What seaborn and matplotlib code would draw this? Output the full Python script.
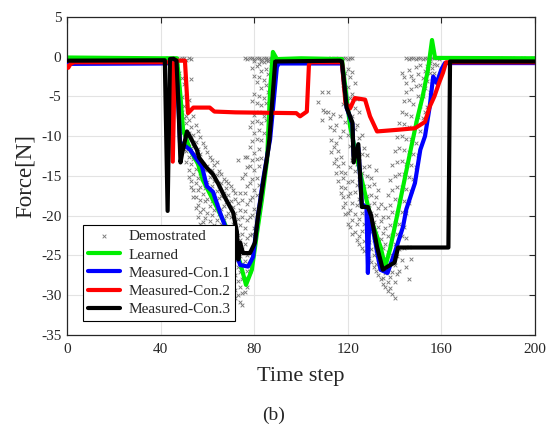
import matplotlib
matplotlib.use("Agg")
import matplotlib.pyplot as plt
import seaborn as sns

sns.set_theme(style="white")
plt.rcParams["font.family"] = ["Liberation Serif", "DejaVu Serif"]
plt.rcParams["axes.unicode_minus"] = False

# ---- curves (time step, force) ----
learned_t = [0, 20, 40, 47, 48.5, 49.6, 52.6, 56, 58, 64.5, 69, 74, 76.5, 79, 81, 83.3,
             85.5, 86.8, 88, 89.7, 100, 117.5, 121, 126, 130, 134, 136, 138, 141,
             143.6, 146.6, 149.6, 152, 154.3, 156, 157.3, 200]
learned_f = [-0.1, -0.15, -0.2, -0.2, -5, -9.2, -11.7, -13.5, -15.5, -19.2, -22, -25.9,
             -28.7, -26.8, -22.6, -18, -13, -4.2, 0.6, -0.3, -0.2, -0.3, -8.8, -15.5,
             -20.5, -23.9, -26.4, -24.3, -20.1, -16.4, -12.1, -7.9, -5, -1.6, 2.1,
             -0.15, -0.2]

con1_t = [0, 40, 46.5, 47.5, 48.3, 49.5, 52.6, 54.7, 57.7, 58.5, 59.8, 62.4, 65.4, 69.7,
          71.8, 74, 77.4, 79.5, 81.6, 83.8, 86, 86.8, 89.7, 90.5, 116.7, 117.5, 119.5,
          122, 122.5, 124.5, 126, 128, 128.6, 129.2, 130, 132.5, 134, 137, 140, 143.6,
          145, 148.7, 151, 153, 155, 156.5, 158, 160, 161.5, 200]
con1_f = [-0.9, -0.85, -0.8, -5, -10.8, -11, -11.7, -12.6, -13.8, -14.8, -16.3, -17,
          -19.6, -23, -24.3, -26.2, -26.4, -25.2, -20.1, -15.5, -11.7, -10.4, -1.3,
          -0.85, -0.85, -0.9, -6.4, -8.5, -12.5, -11.5, -18.5, -19, -27.2, -20, -20.5,
          -24.5, -26.8, -27.2, -24.7, -21.4, -19.2, -15.9, -11.7, -10, -6.3, -2.5,
          -3.3, -1.6, -0.8, -0.8]

con2_t = [0, 0.5, 1.5, 3, 44.3, 45.2, 46.1, 50.4, 51.7, 54, 61, 63, 72, 98, 99.6,
          102.5, 103.4, 104, 117.5, 119, 121, 123, 127.4, 129.5, 132.5, 141, 148.7,
          153, 155, 157, 159, 160.7, 162, 200]
con2_f = [-1.2, -1.4, -0.9, -0.7, -0.7, -13.2, -0.5, -0.5, -7.1, -6.4, -6.4, -6.9,
          -7, -7.1, -7.5, -6.9, -1, -0.7, -0.7, -5.8, -6.5, -5.2, -5.4, -7.5, -9.4,
          -9.2, -9, -8.2, -6.3, -5, -3.3, -2, -0.7, -0.7]

con3_t = [0, 41.8, 43, 44, 45.5, 46.8, 47.6, 48.5, 49.3, 51.3, 53, 55.5, 56.5, 59.8,
          62.4, 64.5, 67.5, 71, 72.6, 73.2, 74, 75.2, 78.2, 80.3, 81.6, 83.8, 86, 86.5,
          89, 116.7, 117.5, 119.5, 122, 122.5, 124.5, 126, 128.6, 130, 132.5, 135, 137,
          140, 141.5, 163, 163.7, 200]
con3_f = [-0.5, -0.45, -19.4, -0.3, -0.25, -0.5, -6, -13.3, -12, -9.4, -10.3, -11.7,
          -12.7, -14, -14.8, -15.9, -17.7, -19.6, -22, -25.5, -23.4, -24.7, -24.7,
          -23.4, -20.1, -15.9, -11.7, -10.4, -0.6, -0.5, -0.6, -6.4, -8.3, -13.3, -11,
          -18.9, -18.9, -20, -23.9, -26.8, -26.4, -25.9, -24, -24, -0.6, -0.6]

# ---- demonstrated samples: columns of time steps with the forces seen there ----
base_t = [0, 2, 4, 6, 8, 10, 12, 14, 16, 18, 20, 22, 24, 26, 43, 44, 45, 46, 47, 48,
          49, 50, 51, 52, 53, 76, 77, 78, 79, 80, 81, 82, 83, 84, 85, 86, 87, 113,
          114, 115, 116, 117, 118, 119, 120, 121, 122, 145, 146, 147, 148, 149, 150,
          151, 152, 153, 154, 155, 156, 157, 158, 159, 165, 170, 175, 180, 185, 190,
          195, 199]
base_f = [-0.1, -0.2, -0.1, -0.2, -0.1, -0.2, -0.1, -0.2, -0.1, -0.2, -0.1, -0.2, -0.1,
          -0.2, -0.2, -0.3, -0.1, -0.4, -0.2, -0.3, -0.1, -0.2, -0.4, -0.2, -0.3, -0.2,
          -0.3, -0.1, -0.2, -0.3, -0.2, -0.1, -0.3, -0.2, -0.1, -0.3, -0.2, -0.2, -0.3,
          -0.1, -0.2, -0.3, -0.2, -0.1, -0.3, -0.2, -0.1, -0.2, -0.3, -0.1, -0.2, -0.3,
          -0.1, -0.2, -0.3, -0.2, -0.1, -0.3, -0.2, -0.1, -0.2, -0.3, -0.1, -0.1, -0.1,
          -0.1, -0.1, -0.1, -0.1, -0.1]

dip1_cols = list(range(46, 88))
dip1_vals = [
    [-0.8, -1.9, -2.8], [-1.2, -3.5, -4.6, -2.4], [-2.1, -4.0, -5.8, -7.2],
    [-2.7, -5.1, -6.9, -8.8, -9.6], [-3.4, -6.2, -7.7, -9.3, -10.8, -11.6],
    [-5.0, -7.5, -8.4, -10.1, -11.9, -13.2], [-5.4, -8.0, -9.6, -11.2, -12.6, -14.3, -15.1],
    [-2.8, -8.9, -10.4, -11.7, -13.5, -15.6, -16.4], [-7.4, -9.8, -11.2, -12.9, -14.8, -16.8, -17.6],
    [-8.6, -10.7, -12.3, -14.1, -15.9, -17.7, -19.0], [-9.3, -11.6, -13.4, -15.3, -16.8, -18.6, -20.2],
    [-10.1, -12.2, -14.6, -16.4, -18.0, -19.5, -21.0], [-10.9, -13.5, -15.2, -17.3, -19.1, -20.8],
    [-11.4, -14.2, -16.5, -18.2, -20.3], [-12.0, -13.8, -15.7, -17.9, -19.6, -21.9],
    [-12.6, -15.1, -17.0, -18.8, -20.7], [-13.0, -14.2, -16.3, -18.1, -19.9, -22.4],
    [-13.6, -15.6, -17.4, -19.3, -21.2], [-13.2, -14.9, -16.9, -18.6, -20.5, -23.0],
    [-14.4, -16.2, -17.8, -19.8, -21.8], [-14.8, -15.9, -17.5, -19.2, -21.1, -23.6],
    [-15.4, -17.1, -18.8, -20.6, -22.6, -24.4], [-15.6, -16.5, -18.3, -20.0, -21.9, -23.8, -25.6],
    [-15.9, -17.4, -19.6, -21.4, -23.3, -25.1, -26.7], [-16.2, -18.1, -20.2, -22.0, -24.0, -26.0, -27.8],
    [-16.8, -18.9, -21.1, -22.9, -24.8, -26.9, -28.6],
    [-17.1, -17.9, -19.6, -21.6, -23.5, -25.6, -27.5, -29.3, -30.4],
    [-13.0, -18.4, -20.4, -22.4, -24.4, -26.4, -28.2, -30.0],
    [-17.1, -19.3, -21.2, -23.0, -25.1, -27.1, -29.0, -30.9],
    [-15.2, -18.0, -20.1, -22.3, -24.2, -26.1, -28.0, -29.7, -31.2],
    [-12.6, -14.8, -17.2, -19.4, -21.5, -23.6, -25.7, -27.8, -29.6],
    [-12.6, -13.9, -16.3, -18.5, -20.6, -22.8, -24.9, -27.0, -29.0],
    [-8.8, -11.4, -13.8, -15.9, -18.0, -20.2, -22.4, -24.6, -26.9],
    [-1.4, -5.6, -8.2, -10.6, -13.0, -15.4, -17.6, -19.9, -22.3, -24.5],
    [-0.6, -2.4, -4.7, -7.3, -9.6, -12.1, -14.3, -16.8, -19.1, -21.5],
    [-1.2, -3.2, -5.8, -8.1, -10.4, -12.9, -15.2, -17.4, -19.8],
    [-0.9, -2.6, -4.9, -7.0, -9.2, -11.6, -13.8, -16.1],
    [-0.5, -1.8, -3.9, -6.1, -8.3, -10.5, -12.7],
    [-0.7, -2.9, -5.2, -7.4, -9.6], [-0.4, -1.6, -3.6, -5.8, -8.0],
    [-0.6, -2.2, -4.4], [-0.3, -1.3],
]

early2_t = [107.3, 109, 109.4, 110.3, 111.5, 111.5, 112.4, 112.4, 113.7, 109, 116.7, 117.9, 116.7]
early2_f = [-5.7, -4.5, -6.7, -6.9, -4.4, -6.9, -7.7, -8.9, -7.2, -8, -7.5, -9.4, -10.1]

dip2_cols = list(range(113, 159))
dip2_vals = [
    [-10.5, -12.0], [-9.2, -11.3, -13.4], [-8.6, -10.8, -12.9, -14.6], [-11.9, -13.8, -15.6],
    [-12.6, -14.5, -16.4, -17.2], [-3.5, -6.0, -13.4, -15.3, -17.6, -18.9],
    [-2.1, -4.4, -8.2, -14.6, -16.5, -18.4, -19.8], [-1.5, -3.8, -6.5, -9.8, -15.8, -17.5, -19.6, -21.0],
    [-2.6, -5.2, -7.9, -11.2, -13.9, -17.1, -19.3, -21.4],
    [-1.9, -4.7, -7.4, -10.3, -13.0, -15.6, -18.4, -20.6, -22.3],
    [-3.3, -6.4, -9.1, -11.8, -14.4, -17.0, -19.8, -22.0],
    [-5.3, -8.6, -11.2, -13.5, -16.1, -18.7, -21.1, -23.0],
    [-7.0, -10.2, -12.8, -15.4, -17.9, -20.4, -22.6, -23.6],
    [-9.8, -12.2, -14.6, -17.0, -19.6, -21.9, -24.0], [-11.5, -13.9, -16.3, -18.8, -21.1, -23.2, -24.5],
    [-12.4, -15.0, -17.5, -19.9, -22.4, -24.7], [-13.8, -16.2, -18.6, -21.0, -23.3, -25.3],
    [-15.2, -17.4, -19.7, -22.1, -24.2, -25.8], [-16.0, -18.4, -20.8, -23.0, -25.0, -26.4],
    [-14.2, -17.6, -19.9, -22.2, -24.3, -26.1, -27.0], [-16.8, -19.0, -21.4, -23.6, -25.5, -27.4],
    [-18.5, -20.7, -22.9, -24.8, -26.7, -27.9], [-20.1, -22.2, -24.1, -26.0, -27.8, -28.6],
    [-19.0, -21.6, -23.5, -25.3, -27.2, -29.0], [-17.4, -20.2, -22.6, -24.6, -26.5, -28.3, -29.5],
    [-15.5, -18.6, -21.2, -23.8, -25.9, -27.7, -29.1], [-13.6, -16.8, -19.5, -22.4, -25.0, -27.1, -29.8],
    [-11.8, -15.0, -17.9, -20.9, -23.6, -26.2, -28.4, -30.3],
    [-10.1, -13.2, -16.4, -19.6, -22.3, -25.1, -27.3], [-8.4, -11.5, -14.8, -18.0, -21.0, -24.2, -27.0],
    [-2.0, -6.9, -10.0, -13.1, -16.4, -19.5, -22.6, -25.6],
    [-2.6, -5.6, -8.5, -11.7, -14.8, -18.1, -21.4, -24.1],
    [-3.3, -4.4, -7.2, -10.3, -13.5, -16.6, -19.7, -22.8, -26.4],
    [-1.7, -5.4, -8.8, -12.0, -15.1, -18.4, -23.9, -28.0],
    [-2.4, -4.0, -7.4, -10.4, -13.6, -16.9, -25.5], [-2.9, -6.0, -9.0, -12.2, -15.4],
    [-1.3, -3.7, -8.3, -10.8, -13.9], [-2.2, -5.0, -7.6, -12.4], [-1.0, -3.6, -6.2, -9.4],
    [-2.7, -5.0, -7.7], [-1.8, -3.9, -7.0], [-1.2, -3.0, -6.3], [-0.8, -2.1, -4.4],
    [-1.4, -3.1], [-0.9, -2.0], [-1.1],
]

demo_t = list(base_t) + list(early2_t)
demo_f = list(base_f) + list(early2_f)
for cols, vals in ((dip1_cols, dip1_vals), (dip2_cols, dip2_vals)):
    for c, vs in zip(cols, vals):
        demo_t += [c] * len(vs)
        demo_f += vs

x_ticks = [0, 40, 80, 120, 160, 200]
y_ticks = [-35, -30, -25, -20, -15, -10, -5, 0, 5]

fig = plt.figure(figsize=(5.47, 4.24), dpi=100)
ax = fig.add_axes([0.1225, 0.21, 0.8555, 0.75])

sns.scatterplot(x=demo_t, y=demo_f, marker="x", s=7, color="#7a7a7a", linewidth=0.65,
                ax=ax, label="Demostrated", zorder=1)
# stacking follows the legend order: green at the bottom, black on top
for t, f, c, lab, z in ((learned_t, learned_f, "#00ee00", "Learned", 2),
                        (con1_t, con1_f, "#0000ff", "Measured-Con.1", 3),
                        (con2_t, con2_f, "#ff0000", "Measured-Con.2", 4),
                        (con3_t, con3_f, "#000000", "Measured-Con.3", 5)):
    sns.lineplot(x=t, y=f, estimator=None, sort=False, color=c, lw=3, ax=ax, label=lab,
                 zorder=z)

ax.set_xlim(0, 200)
ax.set_ylim(-35, 5)
ax.set_xticks(x_ticks)
ax.set_yticks(y_ticks)
ax.grid(True, color="#e3e3e3", lw=0.8)
ax.set_axisbelow(True)
ax.tick_params(direction="in", length=4, width=0.8, labelsize=11, colors="#262626",
               top=True, right=True)
ax.tick_params(axis="x", pad=6)
ax.tick_params(axis="y", pad=4)
for sp in ax.spines.values():
    sp.set_color("#262626")
    sp.set_linewidth(0.9)
ax.set_xlabel("Time step", fontsize=16, labelpad=8)
ax.set_ylabel("Force[N]", fontsize=16.5, labelpad=4)

leg = ax.legend(loc="lower left", bbox_to_anchor=(0.034, 0.044), borderaxespad=0,
                fontsize=11, frameon=True, fancybox=False, framealpha=1,
                edgecolor="black", labelspacing=0.3, handlelength=2.1,
                handletextpad=0.6, borderpad=0.3, markerscale=1.0)
leg.get_frame().set_linewidth(0.8)
leg.set_zorder(10)

fig.text(0.5, 0.021, "(b)", ha="center", va="center", fontsize=14)

fig.savefig("out.png", dpi=100)
